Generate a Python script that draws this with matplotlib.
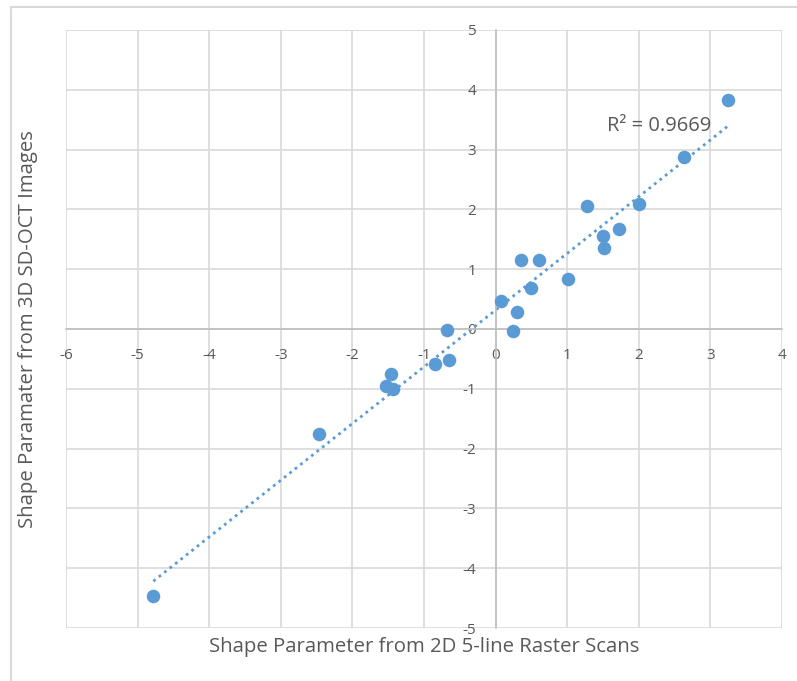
import numpy as np
import matplotlib.pyplot as plt
from matplotlib.lines import Line2D

# Shape parameter, 2D raster scans (x) vs 3D SD-OCT (y)
x_2d = [-4.78, -2.47, -1.53, -1.43, -1.46, -0.85, -0.65, -0.68, 0.24, 0.30,
        0.08, 0.50, 1.01, 0.36, 0.60, 1.52, 1.50, 1.72, 1.28, 2.00, 2.63, 3.24]
y_3d = [-4.46, -1.75, -0.96, -1.00, -0.76, -0.59, -0.52, -0.01, -0.03, 0.28,
        0.47, 0.69, 0.83, 1.15, 1.15, 1.35, 1.56, 1.67, 2.06, 2.09, 2.88, 3.83]
r2_label = "R² = 0.9669"
x_ticks = [-6, -5, -4, -3, -2, -1, 0, 1, 2, 3, 4]
y_ticks = [-5, -4, -3, -2, -1, 0, 1, 2, 3, 4, 5]

plt.rcParams['font.family'] = ['Open Sans', 'DejaVu Sans']
txt = '#595959'
grid_c = '#d9d9d9'
blue = '#5b9bd5'

W, H = 797, 681
fig = plt.figure(figsize=(W / 100, H / 100), dpi=100)
ax = fig.add_axes([66 / W, 1 - 628 / H, (782 - 66) / W, (628 - 30) / H])

# outer chart frame (left and top visible)
fig.add_artist(Line2D([11 / W, 11 / W], [0, 1 - 7 / H], transform=fig.transFigure, color=grid_c, lw=1.5))
fig.add_artist(Line2D([11 / W, 1], [1 - 7 / H, 1 - 7 / H], transform=fig.transFigure, color=grid_c, lw=1.5))

ax.set_xlim(-6, 4)
ax.set_ylim(-5, 5)
ax.set_xticks(x_ticks)
ax.set_yticks(y_ticks)
ax.grid(True, color=grid_c, lw=1.2)
ax.set_axisbelow(True)

for s in ['top', 'right']:
    ax.spines[s].set_visible(False)
ax.spines['left'].set_position(('data', 0))
ax.spines['bottom'].set_position(('data', 0))
ax.spines['left'].set_color('#bfbfbf')
ax.spines['bottom'].set_color('#bfbfbf')
ax.spines['left'].set_linewidth(1.2)
ax.spines['bottom'].set_linewidth(1.2)
ax.tick_params(length=0, labelsize=11, labelcolor=txt, pad=14)
ax.set_xticklabels([str(v) for v in x_ticks])
ax.set_yticklabels([str(v) for v in y_ticks])

ax.scatter(x_2d, y_3d, s=95, color=blue, zorder=3, linewidths=0)

# linear trendline
k, b = np.polyfit(x_2d, y_3d, 1)
xs = np.array([min(x_2d), max(x_2d)])
ax.plot(xs, k * xs + b, color=blue, lw=2, linestyle=(0, (1, 1.5)), zorder=2)
ax.text(2.29, 3.39, r2_label, fontsize=14.5, color=txt, ha='center', va='center')

fig.text(424 / W, 1 - 647 / H, "Shape Parameter from 2D 5-line Raster Scans",
         fontsize=14.7, color=txt, ha='center', va='center')
fig.text(28 / W, 1 - 329 / H, "Shape Paramater from 3D SD-OCT Images",
         fontsize=14.7, color=txt, ha='center', va='center', rotation=90)

fig.savefig('out.png', dpi=100)
